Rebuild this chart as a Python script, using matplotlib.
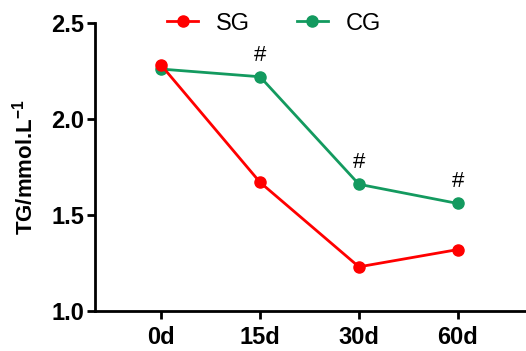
import matplotlib
matplotlib.use("Agg")
import matplotlib.pyplot as plt

plt.rcParams['font.family'] = ['Liberation Sans', 'DejaVu Sans']
plt.rcParams['mathtext.fontset'] = 'custom'
plt.rcParams['mathtext.bf'] = 'Liberation Sans:bold'
plt.rcParams['mathtext.rm'] = 'Liberation Sans'

days = ["0d", "15d", "30d", "60d"]
sg = [2.28, 1.67, 1.23, 1.32]
cg = [2.26, 2.22, 1.66, 1.56]
sig = ["", "#", "#", "#"]

red = '#FF0000'
green = '#139A5F'

fig = plt.figure(figsize=(5.26, 3.51), dpi=100)
ax = fig.add_axes([95/526, 40/351, 1 - 95/526, 288/351])

x = list(range(len(days)))
ax.plot(x, cg, color=green, marker='o', markersize=8, linewidth=2, label="CG", zorder=2)
ax.plot(x, sg, color=red, marker='o', markersize=8, linewidth=2, label="SG", zorder=3)

for xi, yi, s in zip(x, cg, sig):
    if s:
        ax.annotate(s, (xi, yi), xytext=(0, 8), textcoords='offset points',
                    ha='center', va='bottom', fontsize=16)

ax.set_xlim(-0.67, 3.69)
ax.set_ylim(1.0, 2.5)
ax.set_yticks([1.0, 1.5, 2.0, 2.5])
ax.set_yticklabels(["1.0", "1.5", "2.0", "2.5"])
ax.set_xticks(x)
ax.set_xticklabels(days)
for lab in ax.get_xticklabels() + ax.get_yticklabels():
    lab.set_fontweight('bold')
    lab.set_fontsize(17)
ax.tick_params(width=2, length=6, direction='out')
ax.tick_params(axis='y', pad=2)
ax.tick_params(axis='x', pad=5)
ax.spines['top'].set_visible(False)
ax.spines['right'].set_visible(False)
ax.spines['left'].set_linewidth(2)
ax.spines['bottom'].set_linewidth(2)
ax.set_ylabel("TG/mmol.L$^{\\mathbf{-1}}$", fontsize=16, fontweight='bold', labelpad=10)

handles, labels = ax.get_legend_handles_labels()
ax.legend(handles[::-1], labels[::-1], loc='upper center', bbox_to_anchor=(0.415, 1.11),
          ncol=2, frameon=False, fontsize=17, columnspacing=2.0, handlelength=1.3,
          handletextpad=0.75)

fig.savefig("out.png", dpi=100)
